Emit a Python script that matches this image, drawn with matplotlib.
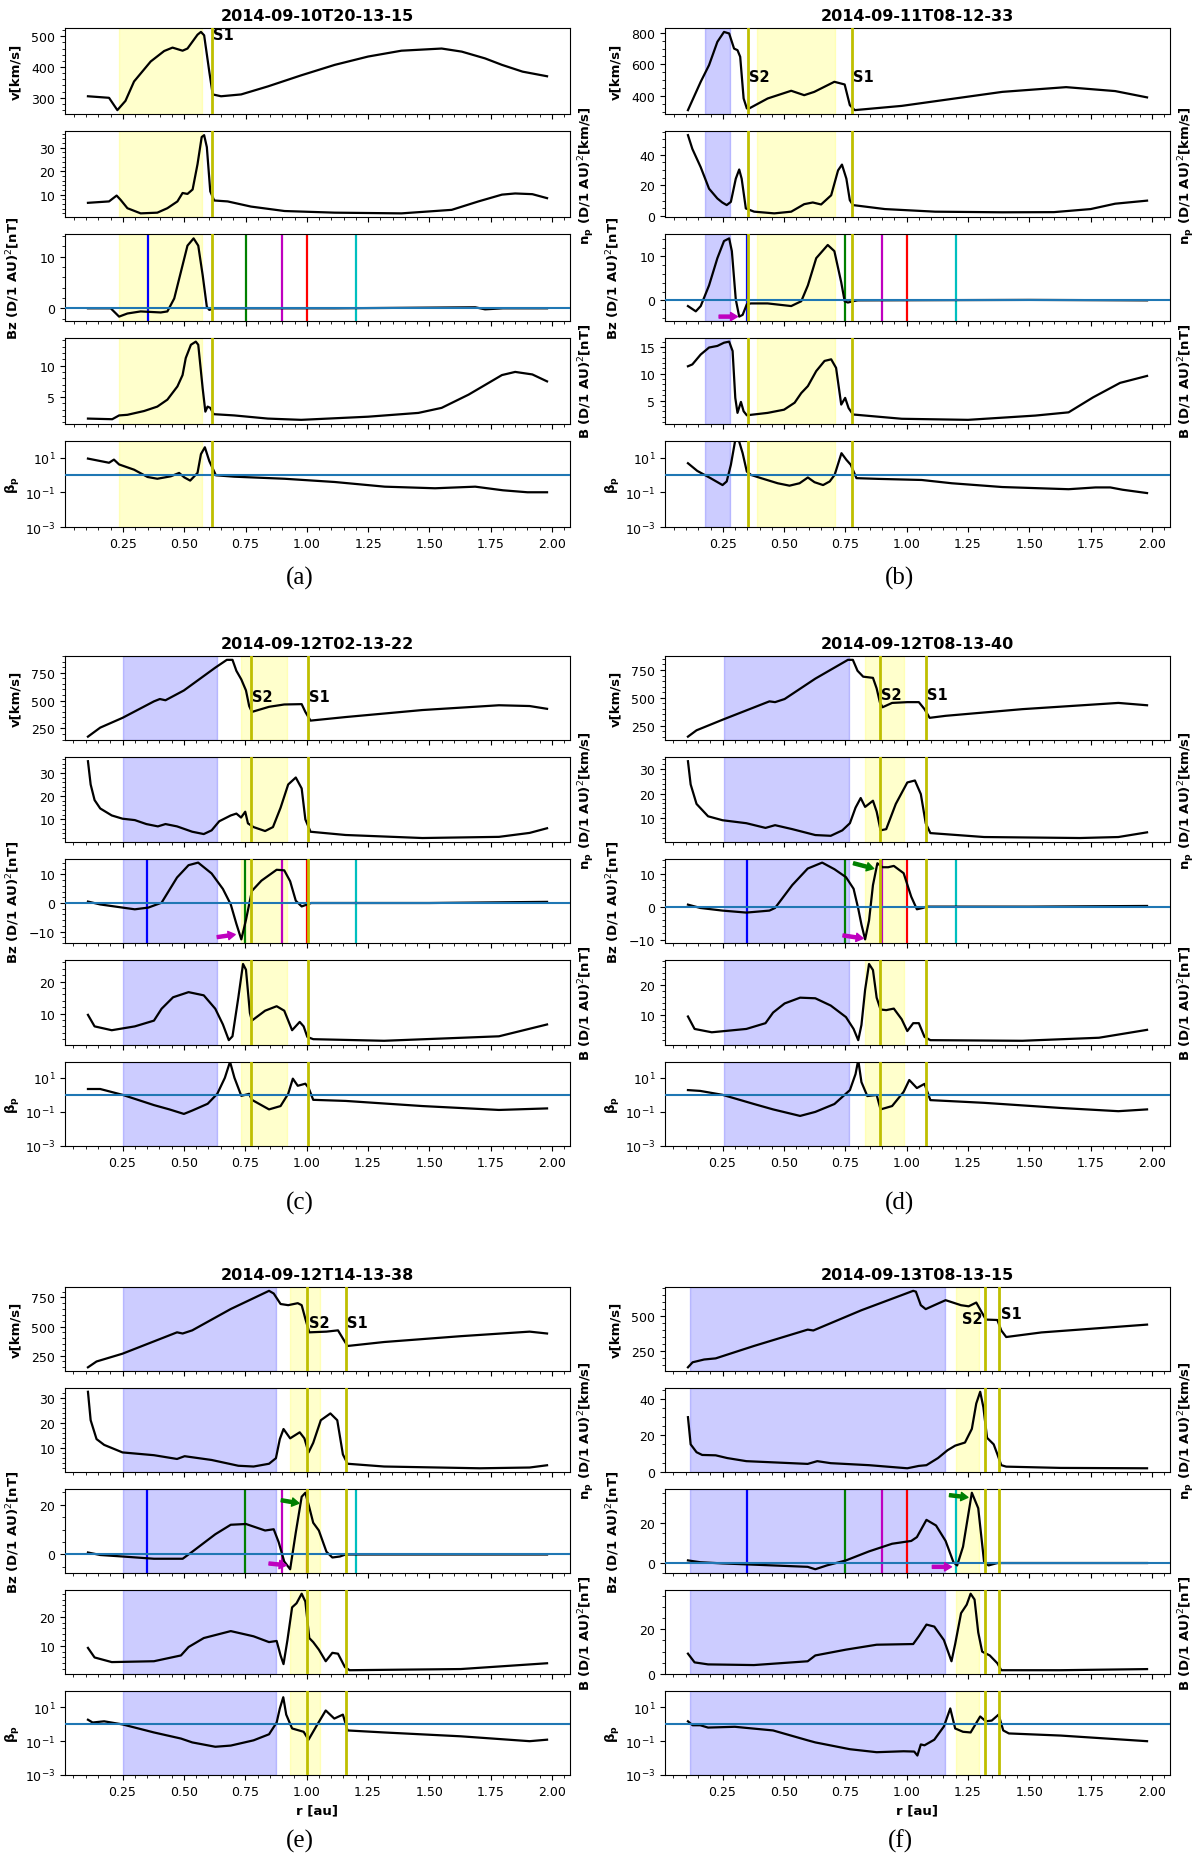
import matplotlib
matplotlib.use("Agg")
import matplotlib.pyplot as plt

# ---- panel (a) 2014-09-10T20-13-15 ----
a_r_v = [0.107, 0.193, 0.227, 0.26, 0.295, 0.363, 0.418, 0.452, 0.493, 0.513, 0.554, 0.568, 0.581, 0.602, 0.616,
         0.65, 0.732, 0.841, 0.977, 1.114, 1.25, 1.386, 1.55, 1.632, 1.727, 1.796, 1.88, 1.98]
a_v = [305, 300, 260, 290, 353, 418, 452, 463, 453, 460, 505, 514, 503, 385, 311,
       305, 311, 337, 373, 407, 434, 453, 460, 450, 428, 407, 385, 370]
a_r_n = [0.107, 0.193, 0.224, 0.24, 0.268, 0.322, 0.39, 0.431, 0.472, 0.493, 0.513, 0.534, 0.554, 0.571, 0.581,
         0.592, 0.606, 0.622, 0.677, 0.772, 0.909, 1.114, 1.386, 1.591, 1.70, 1.796, 1.85, 1.92, 1.98]
a_n = [6.5, 7.1, 9.6, 7.8, 4.2, 2.0, 2.3, 4.2, 7.1, 10.7, 10.3, 12.2, 23, 34.6, 35.4,
       30.3, 11.4, 7.5, 7.1, 4.9, 3.0, 2.3, 2.0, 3.5, 7.1, 10.0, 10.5, 10.2, 8.5]
a_r_bz = [0.107, 0.2, 0.234, 0.268, 0.322, 0.404, 0.431, 0.459, 0.486, 0.513, 0.538, 0.557, 0.575, 0.592, 0.602,
          0.622, 1.114, 1.687, 1.727, 1.80, 1.98]
a_bz = [0, 0, -1.6, -1.0, -0.6, -0.8, -0.6, 1.9, 7, 12.1, 13.5, 12.1, 6.4, 0.3, -0.3,
        0, 0, 0.2, -0.2, 0, 0]
a_r_b = [0.107, 0.206, 0.234, 0.268, 0.336, 0.39, 0.431, 0.472, 0.493, 0.506, 0.527, 0.547, 0.557, 0.575, 0.586,
         0.595, 0.606, 0.62, 0.704, 0.841, 0.977, 1.25, 1.455, 1.55, 1.66, 1.796, 1.85, 1.92, 1.98]
a_b = [1.6, 1.5, 2.1, 2.2, 2.8, 3.5, 4.6, 6.7, 8.5, 11.2, 13.3, 13.8, 13.3, 6.4, 2.7,
       3.5, 3.3, 2.3, 2.1, 1.6, 1.4, 1.9, 2.5, 3.3, 5.4, 8.5, 9.0, 8.6, 7.5]
a_r_beta = [0.107, 0.193, 0.213, 0.234, 0.295, 0.35, 0.39, 0.445, 0.479, 0.5, 0.524, 0.554, 0.568, 0.584, 0.602,
            0.629, 0.704, 0.909, 1.114, 1.318, 1.523, 1.687, 1.8, 1.9, 1.98]
a_beta = [8.7, 5.0, 7.6, 4.0, 2.0, 0.76, 0.6, 0.83, 1.3, 0.72, 0.47, 1.3, 15.8, 39, 6.3,
          0.95, 0.79, 0.6, 0.39, 0.21, 0.17, 0.21, 0.13, 0.1, 0.1]

# ---- panel (b) 2014-09-11T08-12-33 ----
b_r_v = [0.108, 0.16, 0.194, 0.228, 0.255, 0.276, 0.296, 0.31, 0.321, 0.335, 0.348, 0.358, 0.433, 0.529, 0.582,
         0.623, 0.705, 0.747, 0.768, 0.788, 0.98, 1.39, 1.65, 1.85, 1.98]
b_v = [309, 489, 595, 743, 806, 796, 700, 690, 648, 383, 320, 320, 383, 432, 404,
       425, 489, 472, 341, 309, 336, 425, 455, 430, 390]
b_r_n = [0.108, 0.126, 0.16, 0.194, 0.228, 0.248, 0.266, 0.283, 0.303, 0.317, 0.327, 0.344, 0.378, 0.46, 0.529,
         0.582, 0.617, 0.651, 0.692, 0.72, 0.736, 0.754, 0.768, 0.781, 0.911, 1.116, 1.39, 1.6, 1.75, 1.85, 1.98]
b_n = [52.7, 43.7, 31.8, 17.8, 11.4, 8.8, 7.1, 9.2, 24.3, 30.3, 24.3, 4.9, 2.8, 1.7, 2.8,
       7.7, 8.8, 7.5, 13.5, 29.7, 33.5, 24.3, 10.3, 7.1, 4.5, 2.8, 2.4, 2.5, 4.5, 8, 10]
b_r_bz = [0.108, 0.14, 0.16, 0.194, 0.228, 0.255, 0.276, 0.287, 0.303, 0.317, 0.331, 0.348, 0.365, 0.433, 0.529,
          0.57, 0.597, 0.631, 0.678, 0.705, 0.733, 0.747, 0.76, 0.781, 0.8, 1.5, 1.98]
b_bz = [-1.3, -2.5, -1.3, 3.4, 9.6, 13.5, 14.1, 11.2, 0.2, -3.7, -3.3, -0.9, -0.7, -0.7, -1.3,
        -0.2, 3.4, 9.6, 12.6, 11.2, 4.1, -0.2, -0.5, -0.2, 0, 0.1, 0]
b_r_b = [0.108, 0.126, 0.16, 0.194, 0.228, 0.255, 0.276, 0.29, 0.301, 0.31, 0.324, 0.335, 0.348, 0.433, 0.5,
         0.543, 0.57, 0.597, 0.631, 0.665, 0.692, 0.712, 0.733, 0.749, 0.763, 0.781, 0.98, 1.25, 1.525, 1.66,
         1.76, 1.87, 1.98]
b_b = [11.4, 11.75, 13.6, 14.9, 15.2, 15.8, 16, 14.25, 5.5, 2.7, 4.75, 3.0, 2.25, 2.7, 3.3,
       4.6, 6.4, 7.7, 10.5, 12.4, 12.7, 11.1, 4.25, 5.5, 3.6, 2.4, 1.6, 1.4, 2.2, 2.8,
       5.6, 8.3, 9.6]
b_r_beta = [0.108, 0.146, 0.2, 0.249, 0.266, 0.283, 0.303, 0.313, 0.331, 0.348, 0.365, 0.406, 0.474, 0.522, 0.563,
            0.597, 0.624, 0.659, 0.686, 0.706, 0.734, 0.754, 0.772, 0.795, 0.884, 1.061, 1.184, 1.39, 1.66, 1.77,
            1.83, 1.88, 1.98]
b_beta = [4.7, 1.7, 0.65, 0.26, 0.42, 3.8, 150, 125, 17.8, 1.55, 1.0, 0.65, 0.33, 0.24, 0.33,
          0.71, 0.38, 0.26, 0.42, 1.0, 17.8, 7.4, 3.8, 0.65, 0.59, 0.51, 0.33, 0.2, 0.15, 0.19,
          0.19, 0.14, 0.09]

# ---- panel (c) 2014-09-12T02-13-22 ----
c_r_v = [0.109, 0.159, 0.25, 0.378, 0.402, 0.425, 0.5, 0.628, 0.675, 0.698, 0.714, 0.734, 0.753, 0.766, 0.777,
         0.847, 0.909, 0.98, 0.995, 1.016, 1.159, 1.472, 1.784, 1.909, 1.98]
c_v = [176, 257, 345, 493, 514, 503, 591, 796, 866, 866, 767, 690, 591, 451, 398,
       444, 465, 468, 398, 320, 352, 415, 458, 451, 426]
c_r_n = [0.109, 0.12, 0.136, 0.159, 0.206, 0.25, 0.3, 0.347, 0.394, 0.425, 0.472, 0.534, 0.581, 0.613, 0.644,
         0.691, 0.714, 0.733, 0.75, 0.761, 0.784, 0.831, 0.863, 0.894, 0.925, 0.956, 0.98, 0.995, 1.016, 1.159,
         1.472, 1.784, 1.909, 1.98]
c_n = [35, 25, 18.3, 14.7, 11.7, 10.3, 9.7, 8, 7, 8, 7, 4.7, 3.7, 5.3, 9.2,
       11.7, 12.5, 10.8, 13.3, 8.3, 6.7, 5, 6.7, 15, 25, 28, 23.3, 10, 4.7, 3.3,
       2, 2.5, 4.2, 6.2]
c_r_bz = [0.109, 0.159, 0.25, 0.3, 0.355, 0.409, 0.472, 0.519, 0.558, 0.613, 0.659, 0.691, 0.714, 0.734, 0.753,
          0.777, 0.816, 0.878, 0.909, 0.933, 0.956, 0.98, 1.003, 1.019, 1.5, 1.98]
c_bz = [0.5, -0.5, -1.6, -2.2, -1.6, 0.1, 8.9, 13.2, 14.1, 10.3, 4.9, -0.5, -7.3, -12.7, -5.9,
        4.2, 7.8, 11.6, 11.4, 7.6, 0.8, -1.2, -0.5, 0, 0, 0.4]
c_r_b = [0.109, 0.136, 0.206, 0.3, 0.378, 0.409, 0.456, 0.519, 0.581, 0.628, 0.659, 0.683, 0.698, 0.722, 0.741,
         0.753, 0.769, 0.777, 0.831, 0.878, 0.909, 0.941, 0.972, 0.988, 1.003, 1.027, 1.316, 1.784, 1.98]
c_b = [9.6, 6, 4.8, 6, 7.8, 11.5, 15.1, 16.7, 15.7, 11.5, 6.6, 1.7, 2.9, 15.1, 25.5,
       23.7, 10.2, 7.8, 10.9, 12.3, 10.9, 4.8, 7.4, 6, 2.7, 2, 1.5, 2.9, 6.6]
c_r_beta = [0.109, 0.159, 0.25, 0.378, 0.441, 0.5, 0.534, 0.597, 0.636, 0.667, 0.688, 0.706, 0.734, 0.766, 0.777,
            0.847, 0.894, 0.925, 0.944, 0.964, 0.995, 1.008, 1.027, 1.159, 1.472, 1.784, 1.98]
c_beta = [2.2, 2.2, 1.0, 0.25, 0.14, 0.076, 0.12, 0.3, 1.15, 10, 87, 10, 0.87, 1.15, 0.51,
          0.14, 0.22, 1.15, 8.9, 3.4, 4.5, 2.6, 0.51, 0.44, 0.22, 0.13, 0.16]

# ---- panel (d) 2014-09-12T08-13-40 ----
d_r_v = [0.109, 0.144, 0.25, 0.441, 0.464, 0.503, 0.628, 0.761, 0.781, 0.8, 0.823, 0.863, 0.878, 0.891, 0.902,
         0.941, 1.003, 1.05, 1.073, 1.094, 1.159, 1.472, 1.863, 1.98]
d_v = [151, 208, 303, 468, 461, 489, 672, 841, 841, 743, 690, 679, 584, 461, 415,
       454, 461, 461, 398, 320, 338, 398, 454, 433]
d_r_n = [0.109, 0.12, 0.144, 0.191, 0.25, 0.347, 0.425, 0.464, 0.534, 0.628, 0.691, 0.738, 0.769, 0.792, 0.813,
         0.831, 0.863, 0.878, 0.894, 0.917, 0.956, 1.003, 1.034, 1.058, 1.078, 1.097, 1.316, 1.706, 1.863, 1.98]
d_n = [33.1, 23.7, 15.8, 10.8, 9.2, 8, 6.1, 7.2, 5.6, 3.2, 2.9, 5.1, 8, 14.3, 18.2,
       14.6, 17.1, 12.7, 5.1, 5.6, 15.8, 24.5, 25.3, 19.8, 8, 4, 2.4, 2, 2.4, 4.3]
d_r_bz = [0.109, 0.159, 0.25, 0.347, 0.441, 0.464, 0.534, 0.597, 0.656, 0.706, 0.753, 0.784, 0.803, 0.816, 0.831,
          0.847, 0.863, 0.881, 0.902, 0.925, 0.948, 0.988, 1.019, 1.042, 1.066, 1.081, 1.5, 1.98]
d_bz = [0.6, -0.4, -1.2, -1.8, -1.2, -0.4, 6.5, 11.5, 13.3, 11.3, 8.9, 5.4, -0.6, -5.4, -9.9,
        -4.2, 6.5, 13.1, 11.9, 11.9, 12.3, 10.1, 3, -0.8, -0.4, 0, 0, 0.2]
d_r_b = [0.109, 0.136, 0.206, 0.347, 0.425, 0.456, 0.503, 0.566, 0.628, 0.691, 0.753, 0.784, 0.803, 0.816, 0.831,
         0.847, 0.863, 0.878, 0.894, 0.917, 0.948, 0.98, 1.003, 1.027, 1.05, 1.073, 1.097, 1.472, 1.784, 1.98]
d_b = [9.6, 5.5, 4.4, 5.5, 7.4, 10.9, 13.9, 15.8, 15.6, 13.2, 9.4, 5.5, 1.8, 6.8, 18.4,
       26.9, 24.9, 15.8, 11.9, 11.7, 12.2, 8.7, 4.8, 7.4, 7.4, 2.9, 1.8, 1.6, 2.6, 5.2]
d_r_beta = [0.109, 0.159, 0.25, 0.378, 0.456, 0.566, 0.628, 0.706, 0.769, 0.792, 0.803, 0.816, 0.84, 0.878, 0.894,
            0.941, 0.988, 1.011, 1.042, 1.073, 1.097, 1.316, 1.628, 1.863, 1.98]
d_beta = [1.9, 1.7, 1.0, 0.29, 0.14, 0.058, 0.1, 0.29, 1.9, 16.6, 110, 5.6, 0.85, 0.98, 0.14,
          0.22, 1.5, 7.4, 2.5, 4.4, 0.49, 0.34, 0.17, 0.11, 0.14]

# ---- panel (e) 2014-09-12T14-13-38 ----
e_r_v = [0.109, 0.144, 0.25, 0.472, 0.495, 0.534, 0.691, 0.847, 0.866, 0.894, 0.925, 0.964, 0.98, 0.995, 1.011,
         1.081, 1.128, 1.152, 1.167, 1.316, 1.628, 1.909, 1.98]
e_v = [150, 200, 267, 450, 440, 467, 650, 806, 783, 693, 683, 700, 683, 566, 450,
       456, 467, 383, 333, 367, 417, 456, 440]
e_r_n = [0.109, 0.12, 0.144, 0.175, 0.25, 0.378, 0.472, 0.503, 0.613, 0.722, 0.784, 0.847, 0.875, 0.891, 0.906,
         0.933, 0.972, 0.991, 1.008, 1.027, 1.058, 1.097, 1.125, 1.148, 1.167, 1.316, 1.706, 1.909, 1.98]
e_n = [32.3, 21, 13.5, 11.2, 8.2, 7.1, 5.6, 6.7, 5.2, 2.9, 2.6, 3.7, 5.9, 13.5, 17.5,
       13.8, 16.2, 13.8, 8.2, 12, 21, 23.7, 21, 7.4, 3.7, 2.6, 1.9, 2.2, 3.1]
e_r_bz = [0.109, 0.159, 0.25, 0.378, 0.495, 0.534, 0.628, 0.691, 0.753, 0.831, 0.866, 0.886, 0.909, 0.933, 0.956,
          0.98, 0.995, 1.011, 1.027, 1.05, 1.081, 1.105, 1.136, 1.159, 1.5, 1.98]
e_bz = [0.8, -0.2, -0.8, -1.7, -1.7, 1.1, 8.1, 11.9, 12.2, 9.6, 10.1, 5, -2.8, -5.9, 8.8,
        23.1, 24.7, 18.9, 12.7, 9.6, 1.1, -1.2, -0.8, 0, 0, 0]
e_r_b = [0.109, 0.136, 0.206, 0.378, 0.488, 0.519, 0.581, 0.691, 0.784, 0.847, 0.878, 0.894, 0.906, 0.922, 0.941,
         0.959, 0.98, 0.995, 1.011, 1.027, 1.05, 1.078, 1.105, 1.128, 1.156, 1.175, 1.628, 1.98]
e_b = [9.3, 6, 4.4, 4.7, 6.7, 9.6, 12.7, 15.1, 13.3, 11.3, 11.7, 6.7, 3.7, 12, 23.3,
       24.7, 28, 25.3, 12.7, 11.3, 8.7, 4.7, 7.6, 7.3, 2.7, 1.6, 2, 4]
e_r_beta = [0.109, 0.128, 0.175, 0.25, 0.378, 0.488, 0.534, 0.628, 0.691, 0.784, 0.847, 0.878, 0.891, 0.905, 0.917,
            0.941, 0.988, 1.008, 1.042, 1.078, 1.113, 1.148, 1.167, 1.316, 1.628, 1.909, 1.98]
e_beta = [1.8, 1.23, 1.45, 0.95, 0.32, 0.14, 0.083, 0.046, 0.054, 0.11, 0.25, 1.23, 8.3, 38, 3.6,
          0.55, 0.35, 0.12, 0.85, 6.3, 2.1, 3.6, 0.42, 0.32, 0.19, 0.098, 0.12]

# ---- panel (f) 2014-09-13T08-13-15 ----
f_r_v = [0.109, 0.128, 0.175, 0.222, 0.378, 0.597, 0.62, 0.816, 1.027, 1.038, 1.058, 1.078, 1.113, 1.159, 1.222,
         1.253, 1.284, 1.308, 1.323, 1.37, 1.386, 1.406, 1.55, 1.98]
f_v = [133, 169, 189, 197, 286, 403, 397, 542, 681, 675, 578, 550, 578, 614, 578,
       570, 597, 522, 475, 472, 397, 350, 383, 439]
f_r_n = [0.109, 0.12, 0.144, 0.167, 0.222, 0.269, 0.347, 0.597, 0.636, 0.691, 0.847, 1.003, 1.05, 1.081, 1.128,
         1.167, 1.198, 1.238, 1.266, 1.284, 1.3, 1.313, 1.328, 1.355, 1.37, 1.386, 1.406, 1.628, 1.98]
f_n = [29.9, 15, 10.7, 9.2, 9, 7.5, 5.8, 4.3, 5.8, 4.7, 3.6, 1.9, 3.2, 3.6, 7.5,
       11.8, 14.3, 16, 23.5, 37.4, 43.8, 35.3, 18.6, 15, 9.6, 3.6, 2.8, 2.1, 1.9]
f_r_bz = [0.109, 0.159, 0.25, 0.456, 0.597, 0.628, 0.675, 0.753, 0.847, 0.941, 1.019, 1.042, 1.081, 1.12, 1.159,
          1.191, 1.206, 1.23, 1.266, 1.292, 1.316, 1.334, 1.37, 1.5, 1.98]
f_bz = [1.3, 0.4, -0.2, -1.2, -1.9, -3.1, -1.2, 1.3, 5.8, 9.6, 11, 12.9, 21.5, 18.7, 11,
        0.4, -1.2, 8.1, 35, 27.3, 0.4, -1.2, 0, 0, 0]
f_r_b = [0.109, 0.136, 0.191, 0.378, 0.597, 0.628, 0.753, 0.878, 1.027, 1.05, 1.081, 1.113, 1.152, 1.183, 1.198,
         1.222, 1.245, 1.261, 1.277, 1.292, 1.308, 1.339, 1.37, 1.386, 1.628, 1.98]
f_b = [9.1, 5.2, 4.3, 4, 5.7, 8.3, 10.9, 13.1, 13.4, 16.9, 22.1, 21.2, 15.2, 5.7, 13.4,
       27.2, 31, 35.9, 33.3, 18.6, 10, 8.3, 4.8, 1.7, 1.7, 2.2]
f_r_beta = [0.109, 0.128, 0.159, 0.191, 0.3, 0.456, 0.597, 0.628, 0.769, 0.878, 0.988, 1.031, 1.044, 1.058, 1.073,
            1.113, 1.152, 1.178, 1.198, 1.23, 1.261, 1.3, 1.323, 1.347, 1.375, 1.394, 1.417, 1.628, 1.98]
f_beta = [1.45, 0.85, 0.85, 0.62, 0.69, 0.42, 0.11, 0.083, 0.033, 0.022, 0.025, 0.024, 0.014, 0.063, 0.056,
          0.12, 0.72, 8.3, 0.55, 0.35, 0.32, 2.8, 1.45, 1.6, 3.6, 0.42, 0.28, 0.21, 0.098]

titles = ["2014-09-10T20-13-15", "2014-09-11T08-12-33", "2014-09-12T02-13-22",
          "2014-09-12T08-13-40", "2014-09-12T14-13-38", "2014-09-13T08-13-15"]
captions = ["(a)", "(b)", "(c)", "(d)", "(e)", "(f)"]

# shaded intervals (None where absent)
blue_spans = [None, (0.176, 0.28), (0.25, 0.633), (0.256, 0.766), (0.25, 0.875), (0.116, 1.156)]
yellow_spans = [(0.234, 0.572), (0.389, 0.706), (0.734, 0.92), (0.831, 0.988), (0.933, 1.053), (1.203, 1.297)]

# shock positions and labels: (text, r, v, ha)
shocks = [[0.612], [0.351, 0.775], [0.773, 1.005], [0.892, 1.08], [1.003, 1.159], [1.32, 1.378]]
shock_labels = [
    [("S1", 0.616, 505, "left")],
    [("S2", 0.357, 520, "left"), ("S1", 0.780, 520, "left")],
    [("S2", 0.778, 535, "left"), ("S1", 1.010, 535, "left")],
    [("S2", 0.897, 532, "left"), ("S1", 1.085, 532, "left")],
    [("S2", 1.008, 533, "left"), ("S1", 1.164, 533, "left")],
    [("S2", 1.310, 480, "right"), ("S1", 1.383, 522, "left")],
]

# arrows in the Bz panel: (color, r_start, bz_start, r_end, bz_end)
arrows = [
    [],
    [("m", 0.235, -3.7, 0.31, -3.7)],
    [("m", 0.636, -11.9, 0.709, -11.0)],
    [("g", 0.784, 13.1, 0.866, 11.5), ("m", 0.741, -8.7, 0.823, -9.6)],
    [("g", 0.897, 21.7, 0.969, 20.5), ("m", 0.847, -3.6, 0.917, -4.3)],
    [("g", 1.175, 33.8, 1.25, 32.7), ("m", 1.105, -1.9, 1.183, -1.9)],
]

# spacecraft positions drawn in the Bz panel
sc_r = [0.35, 0.75, 0.9, 1.0, 1.2]
sc_colors = ["b", "g", "m", "r", "c"]

series = [
    [(a_r_v, a_v), (a_r_n, a_n), (a_r_bz, a_bz), (a_r_b, a_b), (a_r_beta, a_beta)],
    [(b_r_v, b_v), (b_r_n, b_n), (b_r_bz, b_bz), (b_r_b, b_b), (b_r_beta, b_beta)],
    [(c_r_v, c_v), (c_r_n, c_n), (c_r_bz, c_bz), (c_r_b, c_b), (c_r_beta, c_beta)],
    [(d_r_v, d_v), (d_r_n, d_n), (d_r_bz, d_bz), (d_r_b, d_b), (d_r_beta, d_beta)],
    [(e_r_v, e_v), (e_r_n, e_n), (e_r_bz, e_bz), (e_r_b, e_b), (e_r_beta, e_beta)],
    [(f_r_v, f_v), (f_r_n, f_n), (f_r_bz, f_bz), (f_r_b, f_b), (f_r_beta, f_beta)],
]

ylabels = ["v[km/s]", r"$\mathbf{n_p}$ (D/1 AU)$^2$[km/s]", r"Bz (D/1 AU)$^2$[nT]",
           r"B (D/1 AU)$^2$[nT]", r"$\mathbf{\beta_p}$"]
label_right = [False, True, False, True, False]

W, H = 1200, 1874
col_left = [65, 665]
ax_width = 505
row_top = [29, 657, 1288]
row_bottom = [528, 1147, 1776]
caption_y = [578, 1203, 1841]
caption_x = [300, 900]

plt.rcParams["font.size"] = 9
plt.rcParams["xtick.labelsize"] = 9
plt.rcParams["ytick.labelsize"] = 9

fig = plt.figure(figsize=(12, 18.74), dpi=100)

for p in range(6):
    row, col = p // 2, p % 2
    x0 = col_left[col]
    top, bottom = row_top[row], row_bottom[row]
    h = (bottom - top) / 5.8
    axes = []
    for i in range(5):
        y_top = top + i * 1.2 * h
        rect = [x0 / W, 1 - (y_top + h) / H, ax_width / W, h / H]
        ax = fig.add_axes(rect, sharex=axes[0] if axes else None)
        axes.append(ax)

        if blue_spans[p] is not None:
            ax.axvspan(*blue_spans[p], color="blue", alpha=0.2, zorder=0)
        ax.axvspan(*yellow_spans[p], color="yellow", alpha=0.2, zorder=0)

        r, vals = series[p][i]
        ax.plot(r, vals, color="k", lw=1.6, zorder=3)

        if i == 2:
            ax.axhline(0, color="C0", lw=1.5, zorder=3.5)
            for xs, c in zip(sc_r, sc_colors):
                ax.axvline(xs, color=c, lw=1.6, zorder=2)
            for c, xa, ya, xb, yb in arrows[p]:
                ax.annotate("", xy=(xb, yb), xytext=(xa, ya),
                            arrowprops=dict(facecolor=c, edgecolor=c, width=2.2,
                                            headwidth=6, headlength=5, shrink=0),
                            zorder=5)
        if i == 4:
            ax.set_yscale("log")
            ax.axhline(1, color="C0", lw=1.5, zorder=3.5)
            ax.set_ylim(1e-3, 90)
            ax.set_yticks([1e-3, 1e-1, 1e1])

        for s in shocks[p]:
            ax.axvline(s, color="y", lw=2, zorder=4)

        if i == 0:
            for txt, xs, ys, ha in shock_labels[p]:
                ax.text(xs, ys, txt, ha=ha, va="center", fontsize=10.5, fontweight="bold", zorder=6)
            ax.set_title(titles[p], fontsize=11.5, fontweight="bold")

        ax.minorticks_on()
        ax.set_ylabel(ylabels[i], fontsize=9.5, fontweight="bold")
        if label_right[i]:
            ax.yaxis.set_label_position("right")
            ax.yaxis.set_label_coords(1.012, 0.5)
        else:
            ax.yaxis.set_label_coords(-0.085, 0.5)

        if i < 4:
            ax.tick_params(labelbottom=False)

    if row == 2:
        axes[-1].set_xlabel("r [au]", fontsize=9.5, fontweight="bold")

    fig.text(caption_x[col] / W, 1 - caption_y[row] / H, captions[p], ha="center", va="center",
             fontsize=18, family="Liberation Serif")

fig.savefig("out.png", dpi=100)
